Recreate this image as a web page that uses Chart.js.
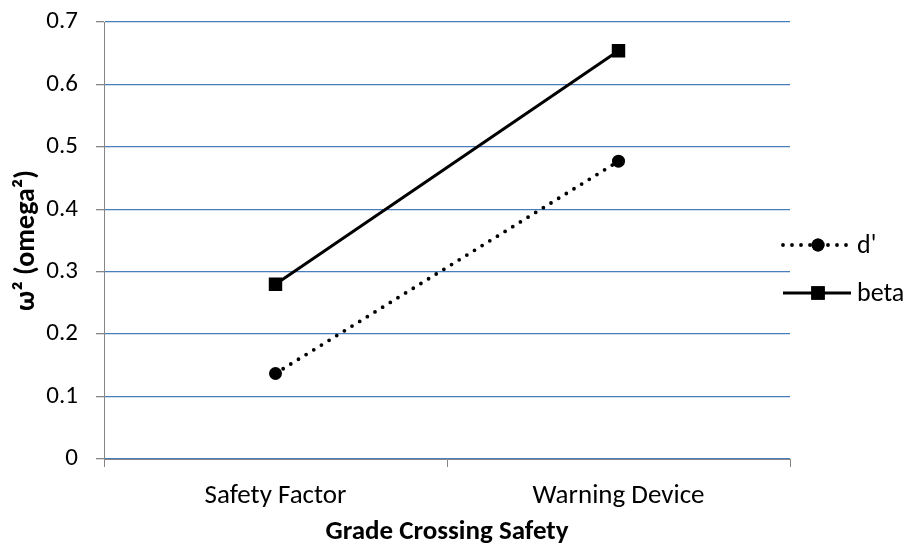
<!DOCTYPE html>
<html><head><meta charset="utf-8">
<script src="https://cdn.jsdelivr.net/npm/chart.js@4/dist/chart.umd.min.js"></script>
<style>html,body{margin:0;padding:0;background:#fff}#wrap{width:907px;height:546px}</style>
</head><body><div id="wrap"><canvas id="c" width="907" height="546"></canvas></div>
<script>
const categories = ["Safety Factor", "Warning Device"];
const dPrime = [0.137, 0.477];
const beta = [0.280, 0.654];
const seriesNames = ["d'", "beta"];
const yTitle = "ω² (omega²)";
const xTitle = "Grade Crossing Safety";
const FONT = "Carlito, Calibri, Lato, sans-serif";

const legendPlugin = {
  id: 'sideLegend',
  afterDraw(chart) {
    const ctx = chart.ctx;
    const rows = [245, 293];
    chart.data.datasets.forEach((ds, i) => {
      const y = rows[i];
      ctx.save();
      ctx.strokeStyle = ds.borderColor;
      ctx.lineWidth = ds.borderWidth;
      ctx.lineCap = ds.borderCapStyle || 'butt';
      ctx.setLineDash(ds.borderDash || []);
      ctx.beginPath(); ctx.moveTo(783, y); ctx.lineTo(851, y); ctx.stroke();
      ctx.setLineDash([]);
      ctx.fillStyle = '#000';
      Chart.helpers.drawPoint(ctx, {pointStyle: ds.pointStyle, radius: ds.pointRadius, borderWidth: 0}, 818, y);
      ctx.fill();
      ctx.font = "26px " + FONT;
      ctx.textBaseline = 'middle';
      ctx.fillText(ds.label, 857, y + 1);
      ctx.restore();
    });
  }
};

new Chart(document.getElementById('c'), {
  type: 'line',
  data: {
    labels: categories,
    datasets: [
      {label: seriesNames[0], data: dPrime, borderColor: '#000', backgroundColor: '#000', borderWidth: 3.8,
       borderDash: [0, 9], borderCapStyle: 'round', pointStyle: 'circle', pointRadius: 6.5,
       pointBackgroundColor: '#000', pointBorderWidth: 0},
      {label: seriesNames[1], data: beta, borderColor: '#000', backgroundColor: '#000', borderWidth: 3,
       pointStyle: 'rect', pointRadius: 9.5, pointBackgroundColor: '#000', pointBorderWidth: 0}
    ]
  },
  options: {
    responsive: false, animation: false,
    layout: {padding: {left: 0, right: 117, top: 22, bottom: 0}},
    plugins: {legend: {display: false}, tooltip: {enabled: false}},
    scales: {
      x: {
        offset: true,
        grid: {offset: true, drawOnChartArea: false, color: '#868686', tickColor: '#868686', tickLength: 8},
        border: {color: '#868686', width: 1},
        ticks: {color: '#000', font: {family: FONT, size: 27}, padding: 13, maxRotation: 0},
        title: {display: true, text: xTitle, color: '#000', font: {family: FONT, size: 27, weight: 'bold'}, padding: {top: 0, bottom: -2}},
        afterFit(s) { s.height = 87; s.paddingLeft = 0; s.paddingRight = 0; }
      },
      y: {
        min: 0, max: 0.7,
        ticks: {stepSize: 0.1, color: '#000', font: {family: FONT, size: 25}, padding: 18,
          callback: v => (Math.round(v * 10) / 10).toString()},
        grid: {color: '#4A7EBB', lineWidth: 1.3, tickColor: '#868686', tickLength: 8},
        border: {color: '#868686', width: 1},
        title: {display: true, text: yTitle, color: '#000', font: {family: FONT, size: 28, weight: 'bold'}, padding: {top: 10, bottom: 0}},
        afterFit(s) { s.width = 104; s.paddingTop = 0; s.paddingBottom = 0; }
      }
    }
  },
  plugins: [legendPlugin]
});
</script></body></html>
